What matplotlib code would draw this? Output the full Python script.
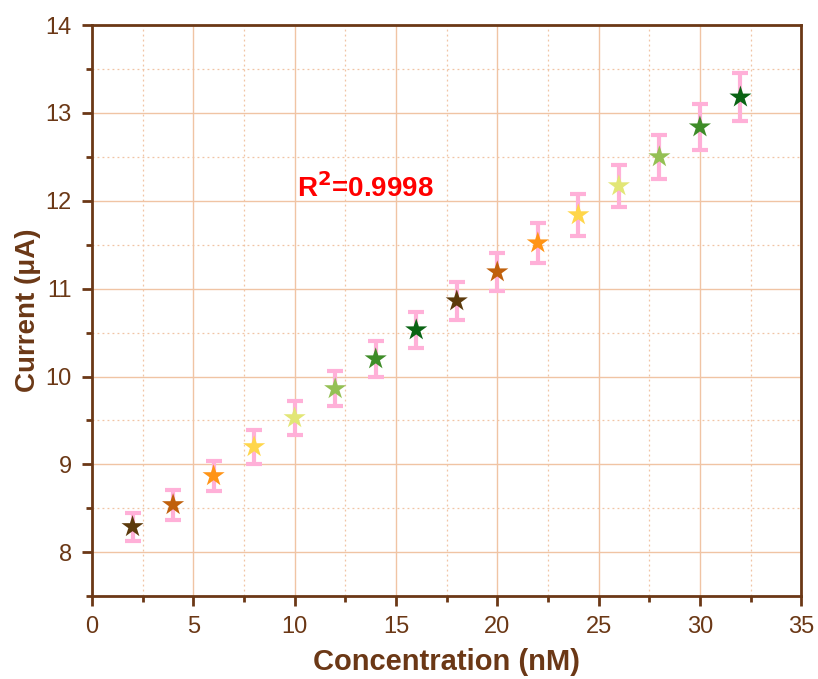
import matplotlib
matplotlib.use("Agg")
import matplotlib.pyplot as plt
from matplotlib.ticker import MultipleLocator

# data
concentration = [2, 4, 6, 8, 10, 12, 14, 16, 18, 20, 22, 24, 26, 28, 30, 32]
current = [8.29, 8.54, 8.87, 9.20, 9.53, 9.86, 10.20, 10.53,
           10.86, 11.19, 11.52, 11.84, 12.17, 12.50, 12.84, 13.18]
error = [0.16, 0.17, 0.17, 0.19, 0.19, 0.20, 0.20, 0.21,
         0.22, 0.22, 0.23, 0.24, 0.24, 0.25, 0.26, 0.27]
star_colors = ["#5c3a0c", "#c0600c", "#ff9416", "#ffd64a",
               "#e2e676", "#94c054", "#3e8c28", "#0a6414"] * 2

BROWN = "#6b3816"
GRID = "#f0c4a4"

plt.rcParams["font.family"] = ["Liberation Sans", "DejaVu Sans"]


def main():
    fig = plt.figure(figsize=(8.18, 6.79), dpi=100)
    ax = fig.add_axes([0.1125, 0.122, 0.867, 0.841])

    ax.errorbar(concentration, current, yerr=error, fmt="none",
                ecolor="#ffb0d8", elinewidth=3, capsize=5.5, capthick=3, zorder=3)
    ax.scatter(concentration, current, marker="*", s=280, c=star_colors,
               edgecolors="none", zorder=4)

    ax.set_xlim(0, 35)
    ax.set_ylim(7.5, 14)
    ax.xaxis.set_major_locator(MultipleLocator(5))
    ax.xaxis.set_minor_locator(MultipleLocator(2.5))
    ax.yaxis.set_major_locator(MultipleLocator(1))
    ax.yaxis.set_minor_locator(MultipleLocator(0.5))

    ax.grid(True, which="major", color=GRID, linewidth=1.0, zorder=0)
    ax.grid(True, which="minor", color=GRID, linewidth=0.9,
            linestyle=(0, (1.5, 2.5)), zorder=0)
    ax.set_axisbelow(True)

    for side in ["left", "bottom", "right", "top"]:
        ax.spines[side].set_color(BROWN)
        ax.spines[side].set_linewidth(2)

    ax.tick_params(which="major", direction="out", length=7.5, width=2,
                   color=BROWN, labelcolor=BROWN, labelsize=17, pad=7)
    ax.tick_params(which="minor", direction="out", length=4, width=2,
                   color=BROWN)

    ax.set_xlabel("Concentration (nM)", fontsize=21, fontweight="bold",
                  color=BROWN, labelpad=7)
    ax.set_ylabel("Current (\u03bcA)", fontsize=20, fontweight="bold",
                  color=BROWN, labelpad=3)

    ax.text(10.1, 12.15, "R$^\\mathbf{2}$=0.9998", color="#ff0000",
            fontsize=20, fontweight="bold", va="center", ha="left")

    fig.savefig("out.png", dpi=100)
    plt.close(fig)


if __name__ == "__main__":
    main()
